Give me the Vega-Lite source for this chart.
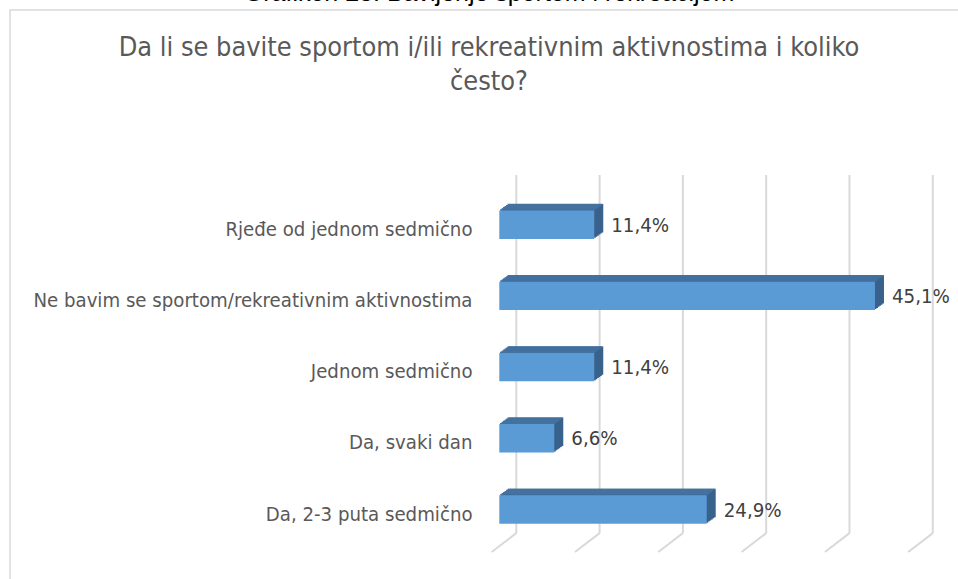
{
  "$schema": "https://vega.github.io/schema/vega-lite/v6.json",
  "width": 958,
  "height": 579,
  "autosize": {"type": "none"},
  "padding": {"left": 10, "top": 10, "right": 0, "bottom": 0},
  "background": "white",
  "config": {
    "view": {"stroke": "#d9d9d9", "strokeWidth": 1.5},
    "locale": {"number": {"decimal": ",", "thousands": ".", "grouping": [3], "currency": ["", " KM"]}},
    "font": "DejaVu Sans Condensed"
  },
  "title": {
    "text": "Grafikon 23: Bavljenje sportom i rekreacijom",
    "subtitle": ["Da li se bavite sportom i/ili rekreativnim aktivnostima i koliko", "često?"],
    "anchor": "middle",
    "frame": "group",
    "font": "Liberation Sans",
    "fontSize": 25,
    "fontWeight": "normal",
    "color": "#000000",
    "subtitleFont": "DejaVu Sans Condensed",
    "subtitleFontSize": 26.9,
    "subtitleColor": "#595959",
    "subtitleLineHeight": 34,
    "subtitlePadding": 29,
    "offset": -85
  },
  "datasets": {
    "bars": [
      {"cat": "Rjeđe od jednom sedmično", "p": 0.114},
      {"cat": "Ne bavim se sportom/rekreativnim aktivnostima", "p": 0.451},
      {"cat": "Jednom sedmično", "p": 0.114},
      {"cat": "Da, svaki dan", "p": 0.066},
      {"cat": "Da, 2-3 puta sedmično", "p": 0.249}
    ],
    "grid": [{"v": 0}, {"v": 0.1}, {"v": 0.2}, {"v": 0.3}, {"v": 0.4}, {"v": 0.5}]
  },
  "layer": [
    {
      "data": {"name": "grid"},
      "layer": [
        {
          "mark": {"type": "rule", "color": "#d9d9d9", "strokeWidth": 2, "xOffset": 17},
          "encoding": {
            "x": {"field": "v", "type": "quantitative", "scale": {"domain": [0, 0.5], "range": [489.3, 905.8]}, "axis": null},
            "y": {"datum": 1, "type": "quantitative", "scale": {"domain": [0, 1], "range": [542, 165]}, "axis": null},
            "y2": {"datum": 0.05}
          }
        },
        {
          "mark": {"type": "rule", "color": "#d9d9d9", "strokeWidth": 2, "xOffset": 17, "x2Offset": -7.6},
          "encoding": {
            "x": {"field": "v", "type": "quantitative"},
            "x2": {"field": "v"},
            "y": {"datum": 0.05, "type": "quantitative"},
            "y2": {"datum": 0}
          }
        }
      ]
    },
    {
      "data": {"name": "bars"},
      "encoding": {
        "y": {
          "field": "cat",
          "type": "nominal",
          "sort": ["Rjeđe od jednom sedmično", "Ne bavim se sportom/rekreativnim aktivnostima", "Jednom sedmično", "Da, svaki dan", "Da, 2-3 puta sedmično"],
          "scale": {"range": [179.1, 535.1], "paddingInner": 0.601, "paddingOuter": 0.3},
          "axis": {
            "orient": "left",
            "title": null,
            "domain": false,
            "ticks": false,
            "tickSize": 0,
            "labelPadding": 0,
            "offset": -462,
            "labelFontSize": 20.2,
            "labelColor": "#595959",
            "labelFont": "DejaVu Sans Condensed",
            "labelOffset": 5,
            "labelLimit": 600
          }
        },
        "x": {"field": "p", "type": "quantitative"}
      },
      "layer": [
        {"mark": {"type": "bar", "color": "#38618C", "xOffset": 1.5, "yOffset": -1.08}},
        {"mark": {"type": "bar", "color": "#38618C", "xOffset": 3, "yOffset": -2.17}},
        {"mark": {"type": "bar", "color": "#38618C", "xOffset": 4.5, "yOffset": -3.25}},
        {"mark": {"type": "bar", "color": "#38618C", "xOffset": 6, "yOffset": -4.33}},
        {"mark": {"type": "bar", "color": "#38618C", "xOffset": 7.5, "yOffset": -5.42}},
        {"mark": {"type": "bar", "color": "#38618C", "xOffset": 9, "yOffset": -6.5}},
        {"mark": {"type": "bar", "color": "#44729F", "height": 1.3, "xOffset": 0.75, "yOffset": -14.74}},
        {"mark": {"type": "bar", "color": "#44729F", "height": 1.3, "xOffset": 2.25, "yOffset": -15.82}},
        {"mark": {"type": "bar", "color": "#44729F", "height": 1.3, "xOffset": 3.75, "yOffset": -16.9}},
        {"mark": {"type": "bar", "color": "#44729F", "height": 1.3, "xOffset": 5.25, "yOffset": -17.99}},
        {"mark": {"type": "bar", "color": "#44729F", "height": 1.3, "xOffset": 6.75, "yOffset": -19.07}},
        {"mark": {"type": "bar", "color": "#44729F", "height": 1.3, "xOffset": 8.25, "yOffset": -20.15}},
        {"mark": {"type": "bar", "color": "#5B9BD5"}},
        {
          "mark": {"type": "text", "align": "left", "baseline": "middle", "dx": 17, "dy": 1, "fontSize": 20.3, "color": "#404040", "font": "DejaVu Sans Condensed"},
          "encoding": {"text": {"field": "p", "type": "quantitative", "format": ".1%"}}
        }
      ]
    }
  ],
  "resolve": {"scale": {"y": "independent"}}
}
